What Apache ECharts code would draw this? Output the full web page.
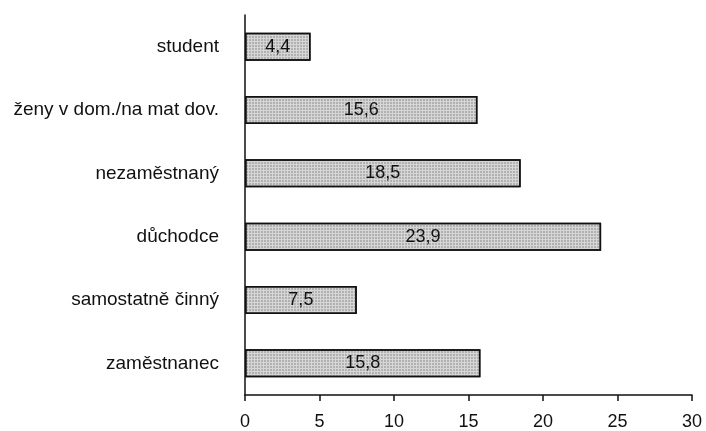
<!DOCTYPE html>
<html>
<head>
<meta charset="utf-8">
<script src="https://cdn.jsdelivr.net/npm/echarts@6/dist/echarts.min.js"></script>
<style>
  html, body { margin: 0; padding: 0; background: #fff; }
  #chart { width: 706px; height: 431px; }
</style>
</head>
<body>
<div id="chart"></div>
<script>
// Categories listed bottom to top (ECharts puts the first category at the bottom)
const categories = ['zaměstnanec', 'samostatně činný', 'důchodce', 'nezaměstnaný', 'ženy v dom./na mat dov.', 'student'];
const shares = [15.8, 7.5, 23.9, 18.5, 15.6, 4.4];
const xTicks = [0, 5, 10, 15, 20, 25, 30];

const chart = echarts.init(document.getElementById('chart'), null, { renderer: 'canvas' });
const font = 'Liberation Sans, Arial, Helvetica, sans-serif';

chart.setOption({
  animation: false,
  backgroundColor: '#ffffff',
  grid: { left: 245, top: 15, width: 447, height: 382 },
  xAxis: {
    type: 'value',
    min: xTicks[0],
    max: xTicks[xTicks.length - 1],
    interval: 5,
    axisLine: { show: true, lineStyle: { color: '#111', width: 1.5 } },
    axisTick: { show: true, length: 6, lineStyle: { color: '#111', width: 1.5 } },
    axisLabel: { margin: 18, color: '#111', fontSize: 18, fontFamily: font },
    splitLine: { show: false }
  },
  yAxis: {
    type: 'category',
    data: categories,
    axisLine: { show: true, lineStyle: { color: '#111', width: 1.5 } },
    axisTick: { show: false },
    axisLabel: { margin: 26, color: '#111', fontSize: 19, fontFamily: font }
  },
  series: [{
    type: 'bar',
    data: shares,
    barWidth: 28,
    itemStyle: {
      color: '#d6d6d6',
      borderColor: '#111',
      borderWidth: 1.5,
      decal: {
        symbol: 'rect',
        symbolSize: 0.7,
        dashArrayX: [2, 1],
        dashArrayY: [2, 1],
        color: 'rgba(90,90,90,0.55)',
        rotation: 0
      }
    },
    label: {
      show: true,
      position: 'inside',
      color: '#111',
      fontSize: 18,
      fontFamily: font,
      formatter: p => String(p.value).replace('.', ',')
    }
  }]
});
</script>
</body>
</html>
